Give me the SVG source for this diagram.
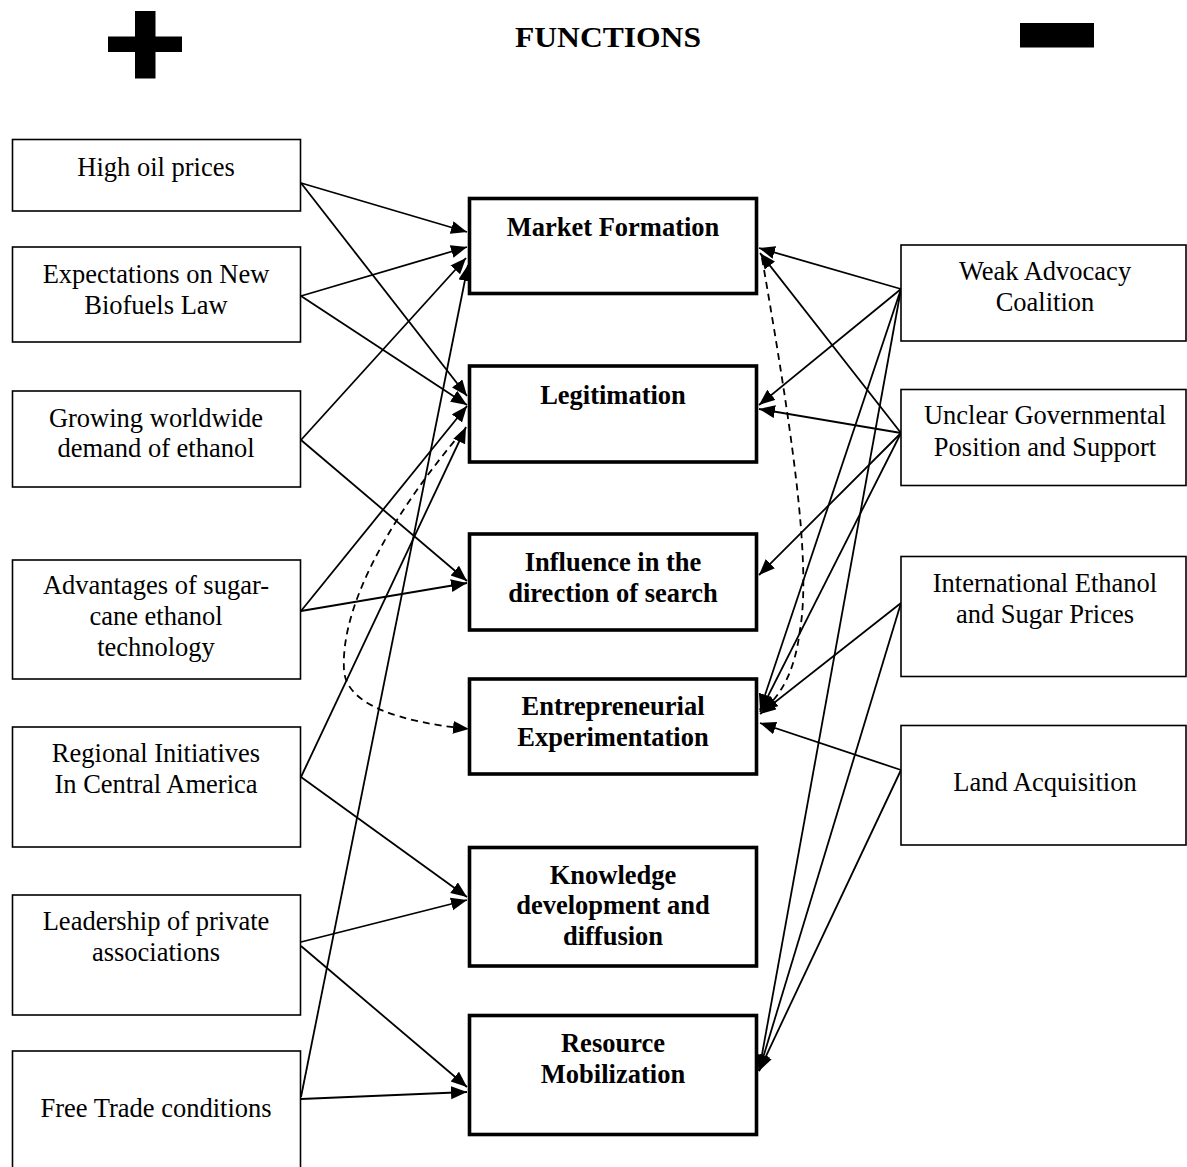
<svg xmlns="http://www.w3.org/2000/svg" width="1187" height="1167" viewBox="0 0 1187 1167">
<style>
text{font-family:"Liberation Serif","Times New Roman",serif;font-size:26.5px;fill:#000;text-anchor:middle}
.b{font-weight:bold}
.src rect{fill:#fff;stroke:#000;stroke-width:1.6}
.fn rect{fill:#fff;stroke:#000;stroke-width:3.6}
#connectors line,#connectors path{stroke:#000;stroke-width:1.8;fill:none;marker-end:url(#ah)}
#connectors .d{stroke-dasharray:7,5}
</style>
<defs>
<marker id="ah" markerUnits="userSpaceOnUse" markerWidth="18" markerHeight="14" refX="16" refY="6.5" orient="auto">
<path d="M0,0 L16,6.5 L0,13 z" fill="#000"/>
</marker>
</defs>
<rect width="1187" height="1167" fill="#fff"/>
<g id="header">
<rect x="135" y="11" width="20.5" height="67.5" fill="#000"/>
<rect x="108" y="36.5" width="74" height="15.5" fill="#000"/>
<text class="b" x="608" y="47" style="font-size:30px" textLength="186" lengthAdjust="spacingAndGlyphs">FUNCTIONS</text>
<rect x="1020" y="23" width="74" height="24.5" fill="#000"/>
</g>
<g id="connectors">
<line x1="301" y1="183" x2="467" y2="232"/>
<line x1="301" y1="183" x2="467" y2="396"/>
<line x1="301" y1="296" x2="467" y2="247"/>
<line x1="301" y1="296" x2="467" y2="405"/>
<line x1="301" y1="440" x2="466" y2="258"/>
<line x1="301" y1="440" x2="467" y2="581"/>
<line x1="301" y1="611" x2="467" y2="406"/>
<line x1="301" y1="611" x2="467" y2="583"/>
<line x1="301" y1="777" x2="466" y2="427"/>
<line x1="301" y1="777" x2="467" y2="897"/>
<line x1="301" y1="942" x2="467" y2="900"/>
<line x1="301" y1="946" x2="467" y2="1087"/>
<line x1="301" y1="1097" x2="468" y2="265"/>
<line x1="301" y1="1099" x2="467" y2="1092"/>
<line x1="901" y1="289" x2="759" y2="248"/>
<line x1="901" y1="289" x2="759" y2="405"/>
<line x1="901" y1="289" x2="760" y2="710"/>
<line x1="901" y1="289" x2="759" y2="1071"/>
<line x1="901" y1="433" x2="760" y2="253"/>
<line x1="901" y1="433" x2="759" y2="409"/>
<line x1="901" y1="433" x2="759" y2="575"/>
<line x1="901" y1="433" x2="760" y2="712"/>
<line x1="901" y1="603" x2="760" y2="714"/>
<line x1="901" y1="603" x2="759" y2="1071"/>
<line x1="901" y1="770" x2="760" y2="723"/>
<line x1="901" y1="770" x2="759" y2="1071"/>
<path class="d" d="M462,432 C400,505 340,600 344,670 C346,705 400,722 469,729"/>
<path class="d" d="M762,258 C790,420 812,560 800,630 C795,670 782,695 762,711"/>
</g>
<g id="high-oil" class="src"><rect x="12.5" y="139.5" width="288" height="71.5"/><text x="156" y="176">High oil prices</text></g>
<g id="expectations" class="src"><rect x="12.5" y="247" width="288" height="95"/><text x="156" y="283">Expectations on New</text><text x="156" y="314">Biofuels Law</text></g>
<g id="growing" class="src"><rect x="12.5" y="391" width="288" height="96"/><text x="156" y="427">Growing worldwide</text><text x="156" y="457">demand of ethanol</text></g>
<g id="advantages" class="src"><rect x="12.5" y="560" width="288" height="119"/><text x="156" y="594">Advantages of sugar-</text><text x="156" y="625">cane ethanol</text><text x="156" y="656">technology</text></g>
<g id="regional" class="src"><rect x="12.5" y="727" width="288" height="120"/><text x="156" y="762">Regional Initiatives</text><text x="156" y="793">In Central America</text></g>
<g id="leadership" class="src"><rect x="12.5" y="895" width="288" height="120"/><text x="156" y="930">Leadership of private</text><text x="156" y="961">associations</text></g>
<g id="free-trade" class="src"><rect x="12.5" y="1051" width="288" height="120"/><text x="156" y="1117">Free Trade conditions</text></g>
<g id="market-formation" class="fn"><rect x="469.5" y="198.5" width="287" height="95"/><text class="b" x="613" y="236">Market Formation</text></g>
<g id="legitimation" class="fn"><rect x="469.5" y="366" width="287" height="96"/><text class="b" x="613" y="404">Legitimation</text></g>
<g id="influence" class="fn"><rect x="469.5" y="534" width="287" height="96"/><text class="b" x="613" y="571">Influence in the</text><text class="b" x="613" y="602">direction of search</text></g>
<g id="entrepreneurial" class="fn"><rect x="469.5" y="679" width="287" height="95"/><text class="b" x="613" y="715">Entrepreneurial</text><text class="b" x="613" y="746">Experimentation</text></g>
<g id="knowledge" class="fn"><rect x="469.5" y="847.5" width="287" height="118.5"/><text class="b" x="613" y="884">Knowledge</text><text class="b" x="613" y="914">development and</text><text class="b" x="613" y="945">diffusion</text></g>
<g id="resource" class="fn"><rect x="469.5" y="1015.5" width="287" height="119"/><text class="b" x="613" y="1052">Resource</text><text class="b" x="613" y="1083">Mobilization</text></g>
<g id="weak-advocacy" class="src"><rect x="901" y="245" width="285" height="96"/><text x="1045" y="280">Weak Advocacy</text><text x="1045" y="311">Coalition</text></g>
<g id="unclear" class="src"><rect x="901" y="389.5" width="285" height="96"/><text x="1045" y="424">Unclear Governmental</text><text x="1045" y="456">Position and Support</text></g>
<g id="international" class="src"><rect x="901" y="556.5" width="285" height="120"/><text x="1045" y="592">International Ethanol</text><text x="1045" y="623">and Sugar Prices</text></g>
<g id="land" class="src"><rect x="901" y="725.5" width="285" height="119.5"/><text x="1045" y="791">Land Acquisition</text></g>
</svg>
